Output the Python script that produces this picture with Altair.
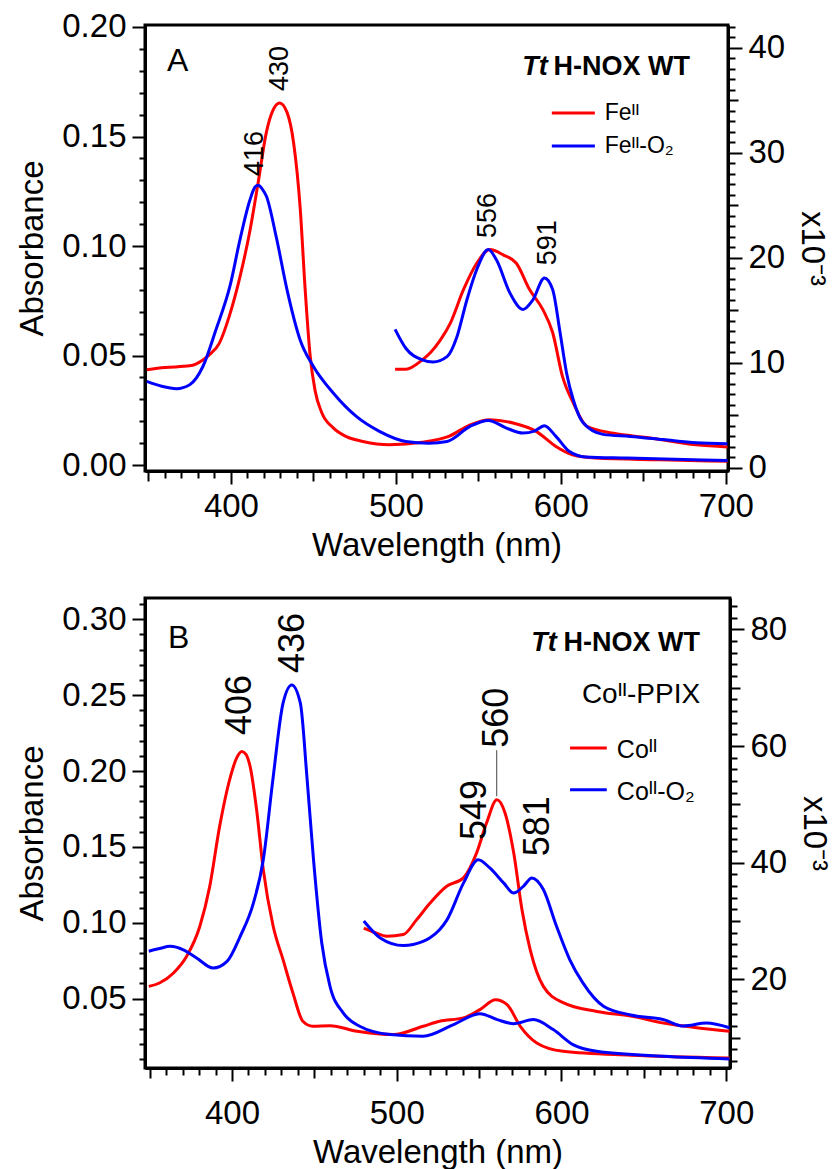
import altair as alt
import pandas as pd

FONT = "Liberation Sans"
RED = "#ff0000"
BLUE = "#0000ff"

# ---------------- Panel A : Tt H-NOX WT (Fe) ----------------
a_fe_wl = [349, 360, 375, 383, 387, 393, 399, 405.5, 411.5, 416.5, 421.5, 425.5, 429.5, 434, 438,
           442, 445, 448, 451, 455, 462, 470, 480, 496, 516, 532, 545, 557, 571, 585, 597, 607, 621, 660, 701]
a_fe_abs = [0.0435, 0.0445, 0.0453, 0.048, 0.0504, 0.0557, 0.068, 0.086, 0.107, 0.129, 0.152, 0.162, 0.1653,
            0.161, 0.147, 0.117, 0.080, 0.050, 0.034, 0.024, 0.017, 0.013, 0.0108, 0.0093, 0.0104,
            0.0131, 0.0184, 0.0207, 0.0192, 0.0154, 0.0085, 0.0047, 0.0032, 0.0024, 0.0017]

a_feo2_wl = [349, 358, 367, 375, 383, 391, 399.5, 405.5, 411.5, 414.5, 416.5, 419, 421.5, 427.5, 434, 442,
             450, 462, 476, 490, 506, 520, 531, 545, 556, 567, 577, 584, 590, 597, 605, 615, 640, 701]
a_feo2_abs = [0.0382, 0.036, 0.0349, 0.0367, 0.045, 0.062, 0.082, 0.103, 0.121, 0.1268, 0.1277, 0.126,
              0.1227, 0.104, 0.080, 0.057, 0.045, 0.0329, 0.0222, 0.0154, 0.0108, 0.0100, 0.0108, 0.0177,
              0.0204, 0.0169, 0.0146, 0.0155, 0.0180, 0.0131, 0.0063, 0.0037, 0.0032, 0.0021]

# magnified traces (x10^-3, right axis)
a_fe_z_wl = [499.5, 506, 516, 521, 527, 533, 541, 549, 557, 565, 573, 581, 589, 595, 601, 607.5, 615.5,
             632, 652, 682, 701]
a_fe_z_val = [9.4, 9.4, 10.3, 11.0, 12.2, 13.8, 17.0, 19.5, 20.8, 20.3, 19.5, 17.0, 15.1, 12.9, 8.7, 6.2,
              4.0, 3.3, 2.9, 2.2, 2.0]
a_feo2_z_wl = [499.5, 506, 516, 522.5, 531, 537, 543, 549, 556, 561, 569, 577, 583, 590, 595, 599.5, 603.5,
               607.5, 613.5, 625.5, 642, 662, 682, 701]
a_feo2_z_val = [13.2, 11.4, 10.3, 10.1, 10.6, 12.5, 16.0, 18.9, 20.8, 19.8, 16.7, 15.1, 16.0, 18.1, 17.0,
                12.9, 9.0, 6.5, 4.3, 3.2, 3.0, 2.7, 2.4, 2.3]

# ---------------- Panel B : Co(II)-PPIX ----------------
b_co_wl = [349.5, 356, 364.5, 372.5, 380.5, 386.5, 392.5, 399, 403, 406, 408.5, 411, 415, 419, 425, 431,
           437, 443, 449, 459.5, 476, 498, 516, 526, 540.5, 550.5, 560, 567, 575, 585, 601, 642, 702]
b_co_abs = [0.0581, 0.0603, 0.0669, 0.0779, 0.0977, 0.124, 0.1635, 0.196, 0.209, 0.2129, 0.211, 0.203,
            0.174, 0.135, 0.0977, 0.0757, 0.0537, 0.0351, 0.0318, 0.0322, 0.0285, 0.0263, 0.0318, 0.0351,
            0.0373, 0.0428, 0.0493, 0.046, 0.0318, 0.0208, 0.0153, 0.0127, 0.0109]

b_coo2_wl = [349.5, 356, 362.5, 370.5, 378.5, 388.5, 397, 405, 413, 419, 425, 431, 436.3, 441.5, 445.5,
             449.5, 454.5, 459.5, 467.5, 477.5, 496, 516, 534.5, 550.5, 561, 571, 583, 595, 607, 621.5, 662, 702]
b_coo2_abs = [0.0812, 0.083, 0.0845, 0.0822, 0.0768, 0.0702, 0.0746, 0.0911, 0.113, 0.1415, 0.196, 0.2447,
              0.2567, 0.2447, 0.196, 0.1415, 0.0867, 0.0581, 0.0406, 0.0318, 0.0263, 0.0252, 0.0329, 0.0401,
              0.0362, 0.0335, 0.0362, 0.0296, 0.0197, 0.0153, 0.0120, 0.0103]

b_co_z_wl = [480, 487, 494, 504, 512, 520, 530.5, 540.5, 548.5, 554.5, 560.8, 565.8, 571, 576, 581, 589,
             601, 621.5, 642, 662, 682, 702]
b_co_z_val = [28.8, 28.0, 27.4, 27.7, 30.2, 33.0, 36.0, 37.4, 41.7, 46.8, 50.8, 48.5, 41.7, 32.0, 25.1,
              18.8, 16.0, 14.5, 13.7, 12.5, 11.7, 11.1]
b_coo2_z_wl = [480, 490, 504, 516, 520, 526, 530.5, 540.5, 549.5, 556.5, 565, 571, 577, 582, 589, 597, 605,
               613, 625.5, 642, 662, 674, 688, 702]
b_coo2_z_val = [30.0, 27.1, 25.8, 26.5, 27.1, 28.5, 30.2, 36.5, 40.5, 39.1, 36.5, 34.8, 36.0, 37.4, 35.4,
                29.1, 23.4, 19.4, 15.4, 13.9, 13.1, 12.0, 12.5, 11.7]

# ---------------- annotation text ----------------
a_peak_left = ["416", "430"]
a_peak_left_wl = [414.5, 429.7]
a_peak_left_v = [0.132, 0.1708]
a_peak_right = ["556", "591"]
a_peak_right_wl = [555.8, 592]
a_peak_right_v = [21.9, 19.3]
a_legend = ["Feᴵᴵ", "Feᴵᴵ-O₂"]

b_peak_left = ["406", "436"]
b_peak_left_wl = [404.9, 436.8]
b_peak_left_v = [0.2237, 0.2646]
b_peak_right = ["549", "560", "581"]
b_peak_right_wl = [547.3, 560.7, 585.5]
b_peak_right_v = [43.9, 59.7, 41.1]
b_legend = ["Coᴵᴵ", "Coᴵᴵ-O₂"]


def frame(wl, v, label=None):
    d = {"wl": wl, "v": v}
    if label is not None:
        d["label"] = label
    return pd.DataFrame(d)


def x_enc(domain, label_pad):
    return alt.X(
        "wl:Q",
        scale=alt.Scale(domain=domain, nice=False, zero=False),
        axis=alt.Axis(
            title="Wavelength (nm)",
            values=list(range(350, 701, 10)),
            format="d",
            labelExpr="datum.value % 100 === 0 ? datum.label : ''",
            tickSize={"condition": [{"test": "datum.value % 100 === 0", "value": 13},
                                    {"test": "datum.value % 50 === 0", "value": 10}],
                      "value": 7},
            labelPadding=label_pad,
            titlePadding=6,
            labelOverlap=False,
            labelFlush=False,
        ),
    )


def yl_enc(domain, values):
    return alt.Y(
        "v:Q",
        scale=alt.Scale(domain=domain, nice=False, zero=False),
        axis=alt.Axis(
            title="Absorbance",
            orient="left",
            values=values,
            format=".2f",
            labelExpr="round(datum.value*100) % 5 === 0 ? datum.label : ''",
            tickSize={"condition": {"test": "round(datum.value*100) % 5 === 0", "value": 13},
                      "value": 6},
            labelPadding=6,
            titlePadding=12,
            labelOverlap=False,
            labelFlush=False,
        ),
    )


def yr_enc(domain, values, major, mid):
    return alt.Y(
        "v:Q",
        scale=alt.Scale(domain=domain, nice=False, zero=False),
        axis=alt.Axis(
            title="x10⁻³",
            orient="right",
            values=values,
            format="d",
            labelExpr=f"datum.value % {major} === 0 ? datum.label : ''",
            tickSize={"condition": [{"test": f"datum.value % {major} === 0", "value": 14},
                                    {"test": f"datum.value % {mid} === 0", "value": 10}],
                      "value": 7},
            labelPadding=6,
            titlePadding=10,
            titleAngle=90,
            labelOverlap=False,
            labelFlush=False,
        ),
    )


def line(data, color, x, y):
    return alt.Chart(data).mark_line(color=color, strokeWidth=3, interpolate="monotone", clip=True).encode(x=x, y=y)


def peak_labels(data, x, y, size):
    return alt.Chart(data).mark_text(font=FONT, fontSize=size, angle=270, align="left", baseline="middle",
                                     color="black").encode(x=x, y=y, text="label:N")


def text(data, x, y, **kw):
    return alt.Chart(data).mark_text(font=FONT, color="black", **kw).encode(x=x, y=y, text="label:N")


def legend_line(wl0, wl1, v, color, x, y):
    d = pd.DataFrame({"wl": [wl0], "wl2": [wl1], "v": [v]})
    return alt.Chart(d).mark_rule(color=color, strokeWidth=3).encode(x=x, x2="wl2:Q", y=y)


# ---------------- build panel A ----------------
xa = x_enc([347.9, 701.3], 6)
yla = yl_enc([-0.0027, 0.2009], [round(i * 0.01, 2) for i in range(0, 21)])
yra = yr_enc([-0.29, 42.19], list(range(0, 43)), 10, 5)

left_a = alt.layer(
    line(frame(a_fe_wl, a_fe_abs), RED, xa, yla),
    line(frame(a_feo2_wl, a_feo2_abs), BLUE, xa, yla),
    peak_labels(frame(a_peak_left_wl, a_peak_left_v, a_peak_left), xa, yla, 27),
    text(frame([361.2], [0.180], ["A"]), xa, yla, fontSize=32, align="left", baseline="alphabetic"),
    text(frame([592.1], [0.178], ["Tt"]), xa, yla, fontSize=27, align="right", baseline="alphabetic",
         fontWeight="bold", fontStyle="italic"),
    text(frame([595.5], [0.178], ["H-NOX WT"]), xa, yla, fontSize=27, align="left", baseline="alphabetic",
         fontWeight="bold"),
    legend_line(594.5, 620.6, 0.1607, RED, xa, yla),
    legend_line(594.5, 620.6, 0.1457, BLUE, xa, yla),
    text(frame([626.6, 626.6], [0.1575, 0.1425], a_legend), xa, yla, fontSize=23, align="left",
         baseline="alphabetic"),
)
right_a = alt.layer(
    line(frame(a_fe_z_wl, a_fe_z_val), RED, xa, yra),
    line(frame(a_feo2_z_wl, a_feo2_z_val), BLUE, xa, yra),
    peak_labels(frame(a_peak_right_wl, a_peak_right_v, a_peak_right), xa, yra, 27),
)
top = alt.layer(left_a, right_a).resolve_scale(y="independent").properties(width=583, height=446)

# ---------------- build panel B ----------------
xb = x_enc([347.2, 702.3], 16)
ylb = yl_enc([0.0043, 0.314], [round(i * 0.01, 2) for i in range(1, 32)])
yrb = yr_enc([4.8, 85.4], list(range(6, 85, 2)), 20, 10)

left_b = alt.layer(
    line(frame(b_co_wl, b_co_abs), RED, xb, ylb),
    line(frame(b_coo2_wl, b_coo2_abs), BLUE, xb, ylb),
    peak_labels(frame(b_peak_left_wl, b_peak_left_v, b_peak_left), xb, ylb, 36),
    text(frame([361.2], [0.281], ["B"]), xb, ylb, fontSize=32, align="left", baseline="alphabetic"),
    text(frame([597.2], [0.2789], ["Tt"]), xb, ylb, fontSize=27, align="right", baseline="alphabetic",
         fontWeight="bold", fontStyle="italic"),
    text(frame([601.2], [0.2789], ["H-NOX WT"]), xb, ylb, fontSize=27, align="left", baseline="alphabetic",
         fontWeight="bold"),
    text(frame([684.2], [0.2448], ["Coᴵᴵ-PPIX"]), xb, ylb, fontSize=28, align="right", baseline="alphabetic"),
    legend_line(605.2, 627.5, 0.2152, RED, xb, ylb),
    legend_line(605.2, 627.5, 0.1877, BLUE, xb, ylb),
    text(frame([633.6, 633.6], [0.2086, 0.1811], b_legend), xb, ylb, fontSize=25, align="left",
         baseline="alphabetic"),
)
connector = alt.Chart(pd.DataFrame({"wl": [560.7], "v": [59.3], "v2": [51.4]})).mark_rule(
    color="#444444", strokeWidth=1).encode(x=xb, y=yrb, y2="v2:Q")
right_b = alt.layer(
    line(frame(b_co_z_wl, b_co_z_val), RED, xb, yrb),
    line(frame(b_coo2_z_wl, b_coo2_z_val), BLUE, xb, yrb),
    connector,
    peak_labels(frame(b_peak_right_wl, b_peak_right_v, b_peak_right), xb, yrb, 36),
)
bottom = alt.layer(left_b, right_b).resolve_scale(y="independent").properties(width=585, height=470)

chart = (
    alt.vconcat(top, bottom, spacing=22)
    .properties(padding={"left": 15, "top": 9, "right": 5, "bottom": 5}, background="white")
    .configure_view(stroke="black", strokeWidth=3)
    .configure_axis(
        labelFont=FONT, labelFontSize=33, labelColor="black",
        titleFont=FONT, titleFontSize=33, titleFontWeight="normal", titleColor="black",
        domainColor="black", domainWidth=3, tickColor="black", tickWidth=2, grid=False,
    )
)

chart.save("out.html", embed_options={"renderer": "svg", "actions": False})
